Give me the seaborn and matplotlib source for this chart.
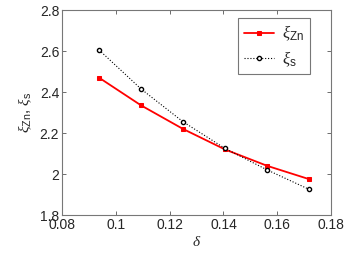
import pandas as pd
import matplotlib
matplotlib.use('Agg')
import matplotlib.pyplot as plt
import seaborn as sns

# values
delta = [0.0938, 0.1094, 0.125, 0.1406, 0.1563, 0.1719]
xi_zn = [2.47, 2.335, 2.22, 2.12, 2.04, 1.975]
xi_s = [2.605, 2.415, 2.255, 2.125, 2.02, 1.925]

df = pd.DataFrame({'delta': delta, 'xi_zn': xi_zn, 'xi_s': xi_s})

sns.set_style('ticks')
plt.rcParams['font.family'] = ['Liberation Sans', 'DejaVu Sans']
plt.rcParams['mathtext.fontset'] = 'custom'
plt.rcParams['mathtext.rm'] = 'Liberation Sans'
plt.rcParams['mathtext.it'] = 'Liberation Serif:italic'

fig = plt.figure(figsize=(3.46, 2.57), dpi=100)
ax = fig.add_axes([0.179, 0.163, 0.778, 0.798])

sns.lineplot(data=df, x='delta', y='xi_zn', ax=ax, color='red', lw=1.3,
             marker='s', markersize=3, markerfacecolor='red',
             markeredgecolor='red', label=r'$\xi_{\mathrm{Zn}}$')
sns.lineplot(data=df, x='delta', y='xi_s', ax=ax, color='black', lw=0.8,
             linestyle=':', marker='o', markersize=3,
             markerfacecolor='white', markeredgecolor='black',
             markeredgewidth=1.0, label=r'$\xi_{\mathrm{s}}$')

ax.set_xlim(0.08, 0.18)
ax.set_ylim(1.8, 2.8)
ax.set_xticks([0.08, 0.1, 0.12, 0.14, 0.16, 0.18])
ax.set_xticklabels(['0.08', '0.1', '0.12', '0.14', '0.16', '0.18'])
ax.set_yticks([1.8, 2.0, 2.2, 2.4, 2.6, 2.8])
ax.set_yticklabels(['1.8', '2', '2.2', '2.4', '2.6', '2.8'])
ax.tick_params(direction='in', top=True, right=True, labelsize=10,
               length=3, width=0.6, color='#555555', pad=2)
for s in ax.spines.values():
    s.set_linewidth(0.8)
    s.set_color('#777777')

ax.set_xlabel(r'$\delta$', fontsize=11, labelpad=2)
ax.set_ylabel(r'$\xi_{\mathrm{Zn}}$, $\xi_{\mathrm{s}}$', fontsize=11, labelpad=4)

leg = ax.legend(loc='upper right', bbox_to_anchor=(0.922, 0.961),
                borderaxespad=0, fontsize=12, frameon=True, fancybox=False,
                handlelength=1.8, handletextpad=0.5, borderpad=0.35,
                labelspacing=0.35)
leg.get_frame().set_edgecolor('#555555')
leg.get_frame().set_linewidth(0.8)

plt.savefig('out.png', dpi=100)
